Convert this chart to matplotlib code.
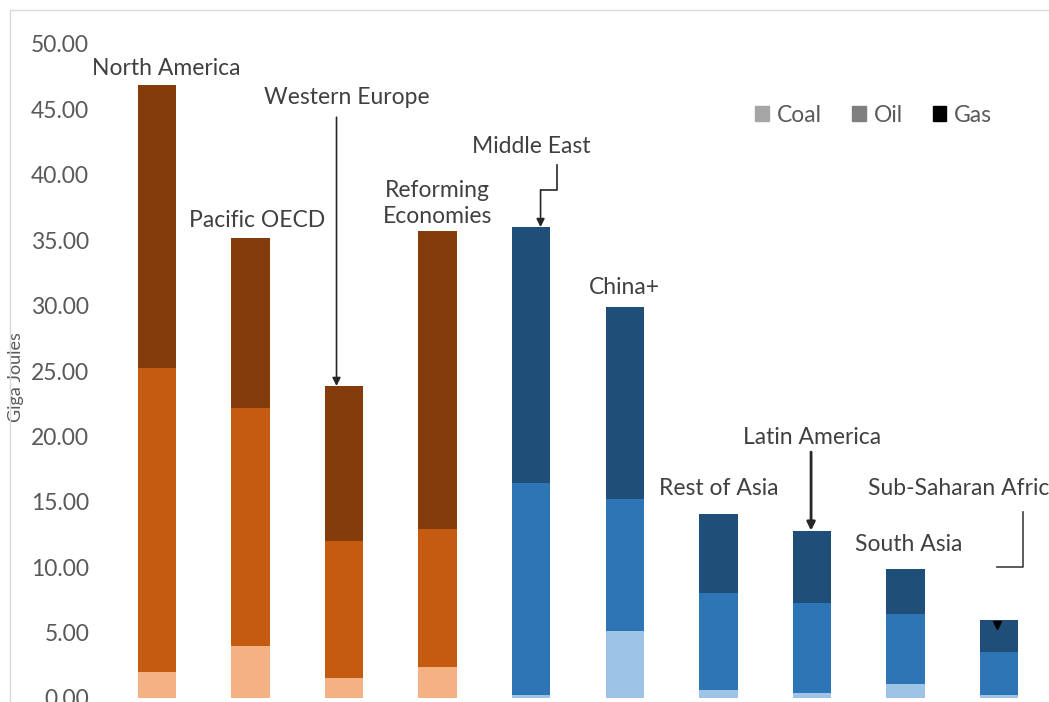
import matplotlib.pyplot as plt
import numpy as np
from matplotlib.patches import Rectangle

plt.rcParams['font.family'] = ['Lato', 'DejaVu Sans']

regions = ['North America', 'Pacific OECD', 'Western Europe', 'Reforming\nEconomies',
           'Middle East', 'China+', 'Rest of Asia', 'Latin America', 'South Asia',
           'Sub-Saharan Africa']
coal = [2.0, 4.0, 1.5, 2.4, 0.25, 5.1, 0.6, 0.4, 1.1, 0.2]
oil = [23.2, 18.2, 10.5, 10.5, 16.15, 10.1, 7.4, 6.9, 5.3, 3.3]
gas = [21.7, 13.0, 11.85, 22.8, 19.6, 14.7, 6.1, 5.5, 3.5, 2.5]

# first four regions are OECD / reforming (orange), rest developing (blue)
oecd = [True, True, True, True, False, False, False, False, False, False]

orange = {'coal': '#F4B183', 'oil': '#C55A11', 'gas': '#843C0C'}
blue = {'coal': '#9DC3E6', 'oil': '#2E75B6', 'gas': '#1F4E79'}

fig = plt.figure(figsize=(10.49, 7.02), dpi=100)
ax = fig.add_axes([110 / 1049, 4 / 702, 936 / 1049, 654 / 702])

x = np.arange(len(regions))
coal = np.array(coal)
oil = np.array(oil)
gas = np.array(gas)
for i in x:
    pal = orange if oecd[i] else blue
    ax.bar(i, coal[i], width=0.41, color=pal['coal'])
    ax.bar(i, oil[i], width=0.41, bottom=coal[i], color=pal['oil'])
    ax.bar(i, gas[i], width=0.41, bottom=coal[i] + oil[i], color=pal['gas'])

totals = coal + oil + gas

ax.set_xlim(-0.5, 9.5)
ax.set_ylim(0, 50)
ax.set_yticks(np.arange(0, 50.1, 5))
ax.set_yticklabels(['%.2f' % v for v in np.arange(0, 50.1, 5)])
ax.set_xticks([])
ax.tick_params(axis='y', length=0, pad=15, labelsize=16.5, labelcolor='#595959')
for s in ax.spines.values():
    s.set_visible(False)
ax.set_ylabel('Giga Joules', fontsize=13, color='#595959')
ax.yaxis.set_label_coords(-0.092, 0.49)

# region labels
label_pos = [(0.10, 48.1), (1.07, 36.5), (2.03, 45.9), (3.0, 37.8), (4.0, 42.2),
             (5.0, 31.4), (6.0, 16.05), (7.0, 19.95), (8.03, 11.7)]
for name, (lx, ly) in zip(regions, label_pos):
    ax.text(lx, ly, name, ha='center', va='center', fontsize=16.5, color='#404040',
            linespacing=1.25, clip_on=False)
ax.text(7.6, 16.05, regions[9], ha='left', va='center', fontsize=16.5,
        color='#404040', clip_on=False)

arrow = dict(arrowstyle='-|>', color='#262626', lw=1.2, mutation_scale=12,
             shrinkA=0, shrinkB=0)
# Western Europe
ax.annotate('', xy=(1.92, totals[2]), xytext=(1.92, 44.4), arrowprops=arrow)
# Middle East: elbow connector
ax.plot([4.28, 4.28, 4.10], [40.75, 38.84, 38.84], color='#262626', lw=1.2)
ax.annotate('', xy=(4.10, totals[4]), xytext=(4.10, 38.84), arrowprops=arrow)
# Latin America
ax.annotate('', xy=(6.99, totals[7]), xytext=(6.99, 18.8),
            arrowprops=dict(arrow, lw=2.0))
# Sub-Saharan Africa
ax.plot([9.25, 9.25, 8.98], [14.2, 10.0, 10.0], color='#404040', lw=1.2)
ax.plot(8.98, 5.6, marker='v', color='black', markersize=6)

# legend
handles = [Rectangle((0, 0), 1, 1, color=c) for c in ['#A6A6A6', '#7F7F7F', '#000000']]
ax.legend(handles, ['Coal', 'Oil', 'Gas'], ncol=3, loc='center',
          bbox_to_anchor=(0.816, 0.891), frameon=False, fontsize=16.5,
          handlelength=0.6, handleheight=0.6, handletextpad=0.35,
          columnspacing=1.3, labelcolor='#595959')

# outer frame
fig.patches.append(Rectangle((10 / 1049, -0.1), 1.2, (692 / 702) + 0.1,
                             transform=fig.transFigure, fill=False,
                             edgecolor='#D9D9D9', lw=1.0))

fig.savefig('out.png', dpi=100)
